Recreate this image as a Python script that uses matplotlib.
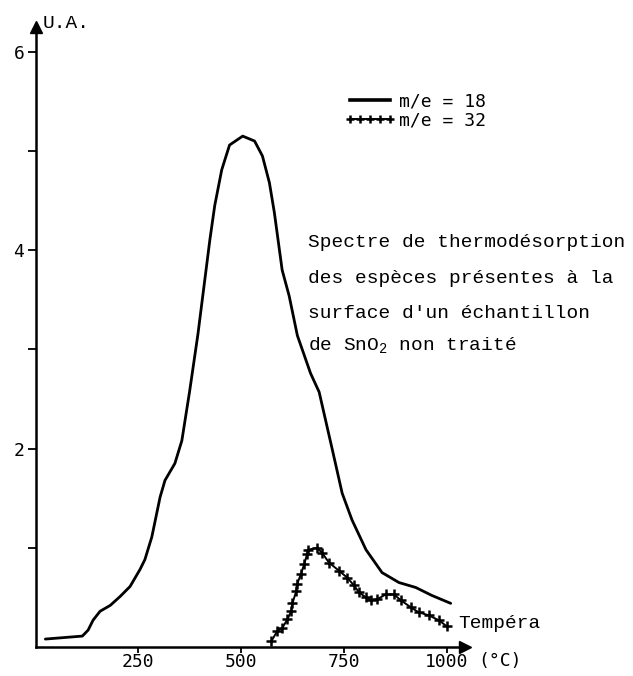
import matplotlib
matplotlib.use("Agg")
import matplotlib.pyplot as plt
from matplotlib.lines import Line2D

plt.rcParams["font.family"] = ["Liberation Mono", "DejaVu Sans Mono"]
plt.rcParams["mathtext.fontset"] = "custom"
plt.rcParams["mathtext.rm"] = "Liberation Mono"
plt.rcParams["mathtext.it"] = "Liberation Mono"

W, H = 633, 676

# m/e = 18 (water) desorption curve
temp_18 = [24, 114, 128, 140, 157, 182, 206, 230, 254, 266, 283, 303, 315,
           339, 356, 375, 395, 424, 436, 453, 472, 504, 533, 552, 569, 581,
           600, 617, 637, 669, 690, 722, 746, 770, 804, 843, 884, 925, 964,
           1010]
ua_18 = [0.08, 0.11, 0.17, 0.27, 0.36, 0.42, 0.51, 0.61, 0.78, 0.88, 1.11,
         1.51, 1.68, 1.85, 2.08, 2.58, 3.15, 4.10, 4.45, 4.81, 5.06, 5.15,
         5.10, 4.95, 4.68, 4.38, 3.80, 3.54, 3.14, 2.76, 2.57, 1.99, 1.55,
         1.28, 0.98, 0.75, 0.65, 0.60, 0.52, 0.44]

# m/e = 32 (oxygen) desorption curve
temp_32 = [574, 588, 600, 613, 622, 625, 634, 637, 646, 654, 661, 663, 685,
           697, 714, 738, 758, 775, 787, 804, 816, 831, 852, 872, 889, 913,
           932, 956, 981, 1000]
ua_32 = [0.06, 0.16, 0.19, 0.28, 0.36, 0.44, 0.56, 0.64, 0.74, 0.84, 0.94,
         0.98, 1.00, 0.95, 0.85, 0.77, 0.70, 0.62, 0.55, 0.50, 0.47, 0.48,
         0.53, 0.53, 0.47, 0.40, 0.35, 0.32, 0.27, 0.21]

x_ticks = [250, 500, 750, 1000]
y_ticks = [1, 2, 3, 4, 5, 6]
y_tick_labels = ["", "2", "", "4", "", "6"]

legend_labels = ["m/e = 18", "m/e = 32"]
caption = ["Spectre de thermodésorption",
           "des espèces présentes à la",
           "surface d'un échantillon",
           "de SnO$_2$ non traité"]


def px(x, y):
    """Pixel position (from top-left) to figure fraction."""
    return x / W, 1 - y / H


fig = plt.figure(figsize=(W / 100, H / 100), dpi=100)
fig.patch.set_facecolor("white")
ax = fig.add_axes([35.5 / W, 29 / H, 430 / W, 620 / H])
ax.set_xlim(0, 1046)
ax.set_ylim(0, 6.25)

ax.plot(temp_18, ua_18, color="black", lw=2.0, solid_joinstyle="round",
        solid_capstyle="round")
ax.plot(temp_32, ua_32, color="black", lw=1.4, marker="+", ms=7, mew=1.8)

for side in ("top", "right"):
    ax.spines[side].set_visible(False)
for side in ("left", "bottom"):
    ax.spines[side].set_linewidth(1.8)

# arrow heads on the axes
ax.plot([0], [1], marker="^", ms=9, color="black", transform=ax.transAxes,
        clip_on=False)
ax.plot([1], [0], marker=">", ms=9, color="black", transform=ax.transAxes,
        clip_on=False)

ax.set_xticks(x_ticks)
ax.set_xticklabels([str(t) for t in x_ticks], family="DejaVu Sans Mono",
                   fontsize=13)
ax.set_yticks(y_ticks)
ax.set_yticklabels(y_tick_labels, family="DejaVu Sans Mono", fontsize=13)
ax.tick_params(axis="x", direction="out", length=4, width=1.3, pad=0.5)
ax.tick_params(axis="y", direction="out", length=6, width=1.3, pad=2)

handles = [Line2D([], [], color="black", lw=2.6),
           Line2D([], [], color="black", lw=1.4, marker="+", ms=6, mew=1.8)]
ax.legend(handles, legend_labels, loc="upper left",
          bbox_to_anchor=px(345, 92), bbox_transform=fig.transFigure,
          frameon=False, numpoints=5, handlelength=2.8, handletextpad=0.2,
          labelspacing=0.1, borderpad=0, borderaxespad=0,
          prop={"family": "DejaVu Sans Mono", "size": 13})

fig.text(*px(43, 28), "U.A.", fontsize=14, va="baseline", ha="left")

for line, y in zip(caption, [247, 283, 318, 350]):
    fig.text(*px(308, y), line, fontsize=14, va="baseline", ha="left")

fig.text(*px(458, 628), "Tempéra", fontsize=14, va="baseline", ha="left")
fig.text(*px(478, 661), "(°C)", family="DejaVu Sans Mono", fontsize=13,
         va="center", ha="left")

fig.savefig("out.png", dpi=100, facecolor="white")
